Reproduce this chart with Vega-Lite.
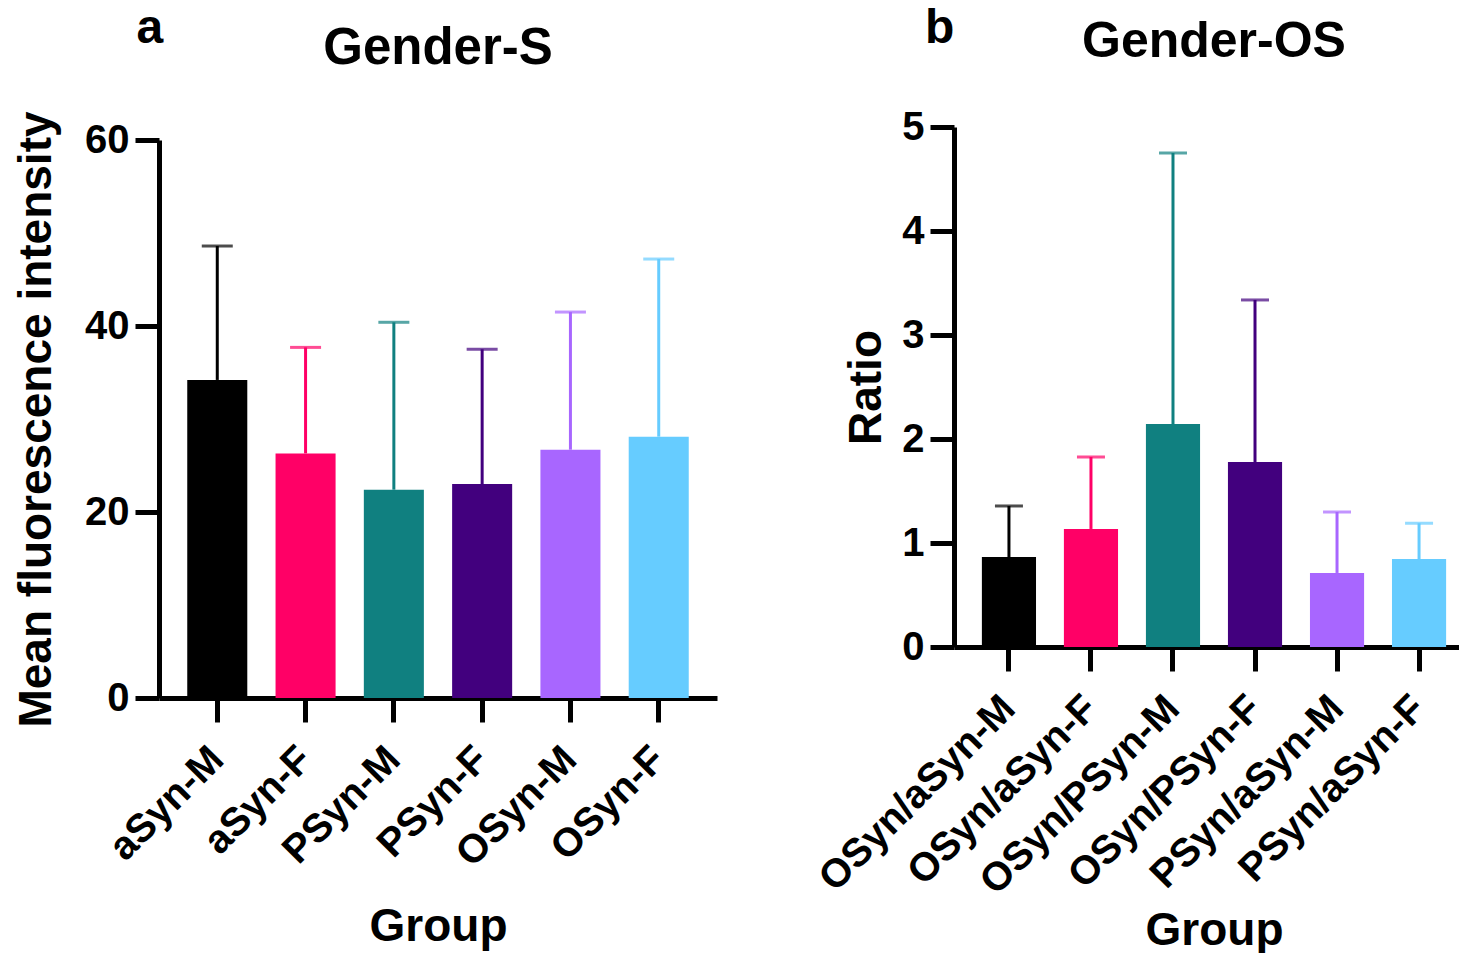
{
  "$schema": "https://vega.github.io/schema/vega-lite/v6.json",
  "background": "white",
  "padding": {"left": 13, "top": 4, "right": -14, "bottom": 0},
  "autosize": {"type": "pad"},
  "config": {
    "view": {"stroke": null},
    "font": "Liberation Sans",
    "axis": {
      "domainColor": "black", "domainWidth": 5, "tickColor": "black", "tickWidth": 5, "tickSize": 24,
      "labelFont": "Liberation Sans", "labelFontWeight": "bold", "labelFontSize": 40, "labelColor": "black", "labelLimit": 0,
      "titleFont": "Liberation Sans", "titleFontWeight": "bold", "titleFontSize": 46, "titleColor": "black",
      "grid": false
    },
    "title": {"font": "Liberation Sans", "fontWeight": "bold", "color": "black"}
  },
  "spacing": 94,
  "hconcat": [
    {
      "title": {"text": "a", "anchor": "start", "frame": "bounds", "fontSize": 48, "offset": -68, "dx": 123, "baseline": "alphabetic"},
      "vconcat": [
        {
          "width": 558,
          "height": 571,
          "title": {"text": "Gender-S", "fontSize": 51, "anchor": "middle", "frame": "group", "offset": -4, "baseline": "alphabetic"},
          "data": {"values": [
            {"group": "aSyn-M", "mean": 34.2, "upper": 48.6},
            {"group": "aSyn-F", "mean": 26.3, "upper": 37.7},
            {"group": "PSyn-M", "mean": 22.4, "upper": 40.4},
            {"group": "PSyn-F", "mean": 23.0, "upper": 37.5},
            {"group": "OSyn-M", "mean": 26.7, "upper": 41.5},
            {"group": "OSyn-F", "mean": 28.1, "upper": 47.2}
          ]},
          "encoding": {
            "x": {"field": "group", "type": "nominal", "sort": null,
                  "scale": {"paddingInner": 0.32, "paddingOuter": 0.32},
                  "axis": {"title": "Group", "labelAngle": -45, "labelAlign": "right", "labelBaseline": "middle", "labelPadding": 31, "titleY": 242, "titleBaseline": "alphabetic"}},
            "color": {"field": "group", "type": "nominal", "legend": null,
                      "scale": {"domain": ["aSyn-M", "aSyn-F", "PSyn-M", "PSyn-F", "OSyn-M", "OSyn-F"],
                                "range": ["#000000", "#FF0066", "#108080", "#42007E", "#A866FF", "#66CCFF"]}}
          },
          "layer": [
            {"mark": {"type": "bar"},
             "encoding": {"y": {"field": "mean", "type": "quantitative",
                                "scale": {"domain": [0, 60], "range": [571, 13], "nice": false},
                                "axis": {"title": "Mean fluorescence intensity", "values": [0, 20, 40, 60], "format": "d", "labelPadding": 6, "titlePadding": 24}}}},
            {"mark": {"type": "rule", "strokeWidth": 3},
             "encoding": {"y": {"field": "mean", "type": "quantitative"}, "y2": {"field": "upper"}}},
            {"mark": {"type": "tick", "thickness": 3, "size": 31},
             "encoding": {"y": {"field": "upper", "type": "quantitative"}}}
          ]
        }
      ]
    },
    {
      "title": {"text": "b", "anchor": "start", "frame": "bounds", "fontSize": 48, "offset": -74, "dx": 113, "baseline": "alphabetic"},
      "vconcat": [
        {
          "width": 520,
          "height": 520,
          "title": {"text": "Gender-OS", "fontSize": 50, "anchor": "middle", "frame": "group", "offset": 0, "baseline": "alphabetic"},
          "data": {"values": [
            {"group": "OSyn/aSyn-M", "mean": 0.865, "upper": 1.356},
            {"group": "OSyn/aSyn-F", "mean": 1.135, "upper": 1.827},
            {"group": "OSyn/PSyn-M", "mean": 2.144, "upper": 4.75},
            {"group": "OSyn/PSyn-F", "mean": 1.779, "upper": 3.337},
            {"group": "PSyn/aSyn-M", "mean": 0.712, "upper": 1.298},
            {"group": "PSyn/aSyn-F", "mean": 0.846, "upper": 1.19}
          ]},
          "encoding": {
            "x": {"field": "group", "type": "nominal", "sort": null,
                  "scale": {"paddingInner": 0.34, "paddingOuter": 0.34},
                  "axis": {"title": "Group", "labelAngle": -45, "labelAlign": "right", "labelBaseline": "middle", "labelPadding": 31, "titleY": 297, "titleBaseline": "alphabetic"}},
            "color": {"field": "group", "type": "nominal", "legend": null,
                      "scale": {"domain": ["OSyn/aSyn-M", "OSyn/aSyn-F", "OSyn/PSyn-M", "OSyn/PSyn-F", "PSyn/aSyn-M", "PSyn/aSyn-F"],
                                "range": ["#000000", "#FF0066", "#108080", "#42007E", "#A866FF", "#66CCFF"]}}
          },
          "layer": [
            {"mark": {"type": "bar"},
             "encoding": {"y": {"field": "mean", "type": "quantitative",
                                "scale": {"domain": [0, 5], "nice": false},
                                "axis": {"title": "Ratio", "values": [0, 1, 2, 3, 4, 5], "format": "d", "labelPadding": 6, "titlePadding": 11}}}},
            {"mark": {"type": "rule", "strokeWidth": 3},
             "encoding": {"y": {"field": "mean", "type": "quantitative"}, "y2": {"field": "upper"}}},
            {"mark": {"type": "tick", "thickness": 3, "size": 28},
             "encoding": {"y": {"field": "upper", "type": "quantitative"}}}
          ]
        }
      ]
    }
  ]
}
